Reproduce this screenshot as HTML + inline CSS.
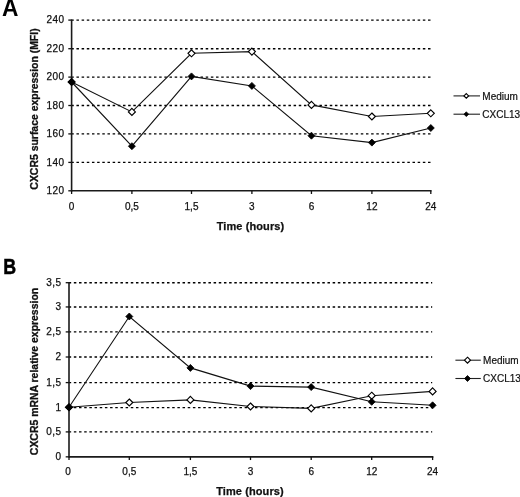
<!DOCTYPE html>
<html><head><meta charset="utf-8"><style>
html,body{margin:0;padding:0;background:#fff;}
svg{display:block;filter:blur(0.35px);}
.t{font-family:"Liberation Sans",sans-serif;font-size:10px;fill:#111;stroke:#111;stroke-width:0.25px;}
.ty{letter-spacing:0.4px;}
.tb{font-family:"Liberation Sans",sans-serif;font-size:11px;font-weight:bold;fill:#111;stroke:#111;stroke-width:0.25px;letter-spacing:0.1px;}
.yb{font-family:"Liberation Sans",sans-serif;font-size:10.45px;font-weight:bold;fill:#111;stroke:#111;stroke-width:0.3px;}
.lg{font-family:"Liberation Sans",sans-serif;font-size:10px;fill:#111;stroke:#111;stroke-width:0.2px;}
.L{font-family:"Liberation Sans",sans-serif;font-size:22px;font-weight:bold;fill:#000;stroke:#000;stroke-width:0.5px;}
</style></head><body>
<svg width="520" height="497" viewBox="0 0 520 497">
<rect width="520" height="497" fill="#fff"/>
<line x1="71.28" y1="20.1" x2="430.8" y2="20.1" stroke="#000" stroke-width="1.4" stroke-dasharray="2.5,2.67"/>
<line x1="71.28" y1="48.7" x2="430.8" y2="48.7" stroke="#000" stroke-width="1.4" stroke-dasharray="2.5,2.67"/>
<line x1="71.28" y1="77.1" x2="430.8" y2="77.1" stroke="#000" stroke-width="1.4" stroke-dasharray="2.5,2.67"/>
<line x1="71.28" y1="105.5" x2="430.8" y2="105.5" stroke="#000" stroke-width="1.4" stroke-dasharray="2.5,2.67"/>
<line x1="71.28" y1="133.9" x2="430.8" y2="133.9" stroke="#000" stroke-width="1.4" stroke-dasharray="2.5,2.67"/>
<line x1="71.28" y1="162.4" x2="430.8" y2="162.4" stroke="#000" stroke-width="1.4" stroke-dasharray="2.5,2.67"/>
<line x1="68.3" y1="20.1" x2="71.6" y2="20.1" stroke="#111" stroke-width="1.3"/>
<line x1="68.3" y1="48.7" x2="71.6" y2="48.7" stroke="#111" stroke-width="1.3"/>
<line x1="68.3" y1="77.1" x2="71.6" y2="77.1" stroke="#111" stroke-width="1.3"/>
<line x1="68.3" y1="105.5" x2="71.6" y2="105.5" stroke="#111" stroke-width="1.3"/>
<line x1="68.3" y1="133.9" x2="71.6" y2="133.9" stroke="#111" stroke-width="1.3"/>
<line x1="68.3" y1="162.4" x2="71.6" y2="162.4" stroke="#111" stroke-width="1.3"/>
<line x1="68.3" y1="190.8" x2="71.6" y2="190.8" stroke="#111" stroke-width="1.3"/>
<line x1="71.6" y1="19.5" x2="71.6" y2="191.4" stroke="#1a1a1a" stroke-width="1.6"/>
<line x1="71.6" y1="190.8" x2="431.6" y2="190.8" stroke="#1a1a1a" stroke-width="1.6"/>
<line x1="71.6" y1="190.8" x2="71.6" y2="194.0" stroke="#111" stroke-width="1.3"/>
<line x1="131.9" y1="190.8" x2="131.9" y2="194.0" stroke="#111" stroke-width="1.3"/>
<line x1="191.5" y1="190.8" x2="191.5" y2="194.0" stroke="#111" stroke-width="1.3"/>
<line x1="251.9" y1="190.8" x2="251.9" y2="194.0" stroke="#111" stroke-width="1.3"/>
<line x1="311.45" y1="190.8" x2="311.45" y2="194.0" stroke="#111" stroke-width="1.3"/>
<line x1="371.9" y1="190.8" x2="371.9" y2="194.0" stroke="#111" stroke-width="1.3"/>
<line x1="430.8" y1="190.8" x2="430.8" y2="194.0" stroke="#111" stroke-width="1.3"/>
<text x="64.4" y="23.3" text-anchor="end" class="t ty">240</text>
<text x="64.4" y="51.900000000000006" text-anchor="end" class="t ty">220</text>
<text x="64.4" y="80.3" text-anchor="end" class="t ty">200</text>
<text x="64.4" y="108.7" text-anchor="end" class="t ty">180</text>
<text x="64.4" y="137.1" text-anchor="end" class="t ty">160</text>
<text x="64.4" y="165.6" text-anchor="end" class="t ty">140</text>
<text x="64.4" y="194.0" text-anchor="end" class="t ty">120</text>
<text x="71.6" y="209.5" text-anchor="middle" class="t">0</text>
<text x="131.9" y="209.5" text-anchor="middle" class="t">0,5</text>
<text x="191.5" y="209.5" text-anchor="middle" class="t">1,5</text>
<text x="251.9" y="209.5" text-anchor="middle" class="t">3</text>
<text x="311.45" y="209.5" text-anchor="middle" class="t">6</text>
<text x="371.9" y="209.5" text-anchor="middle" class="t">12</text>
<text x="430.8" y="209.5" text-anchor="middle" class="t">24</text>
<text x="250.5" y="230" text-anchor="middle" class="tb">Time (hours)</text>
<text transform="translate(38,109) rotate(-90)" text-anchor="middle" class="yb">CXCR5 surface expression (MFI)</text>
<polyline points="71.6,82 131.9,111.9 191.5,53.3 251.9,51.6 311.45,104.9 371.9,116.5 430.8,113.3" fill="none" stroke="#111" stroke-width="1.1"/>
<polyline points="71.6,82 131.9,146.2 191.5,76.4 251.9,85.9 311.45,135.7 371.9,142.6 430.8,128" fill="none" stroke="#111" stroke-width="1.1"/>
<polygon points="71.6,78.5 75.1,82 71.6,85.5 68.1,82" fill="#fff" stroke="#000" stroke-width="1.15"/>
<polygon points="131.9,108.4 135.4,111.9 131.9,115.4 128.4,111.9" fill="#fff" stroke="#000" stroke-width="1.15"/>
<polygon points="191.5,49.8 195.0,53.3 191.5,56.8 188.0,53.3" fill="#fff" stroke="#000" stroke-width="1.15"/>
<polygon points="251.9,48.1 255.4,51.6 251.9,55.1 248.4,51.6" fill="#fff" stroke="#000" stroke-width="1.15"/>
<polygon points="311.45,101.4 314.95,104.9 311.45,108.4 307.95,104.9" fill="#fff" stroke="#000" stroke-width="1.15"/>
<polygon points="371.9,113.0 375.4,116.5 371.9,120.0 368.4,116.5" fill="#fff" stroke="#000" stroke-width="1.15"/>
<polygon points="430.8,109.8 434.3,113.3 430.8,116.8 427.3,113.3" fill="#fff" stroke="#000" stroke-width="1.15"/>
<polygon points="71.6,78.5 75.1,82 71.6,85.5 68.1,82" fill="#000" stroke="#000" stroke-width="0.8"/>
<polygon points="131.9,142.7 135.4,146.2 131.9,149.7 128.4,146.2" fill="#000" stroke="#000" stroke-width="0.8"/>
<polygon points="191.5,72.9 195.0,76.4 191.5,79.9 188.0,76.4" fill="#000" stroke="#000" stroke-width="0.8"/>
<polygon points="251.9,82.4 255.4,85.9 251.9,89.4 248.4,85.9" fill="#000" stroke="#000" stroke-width="0.8"/>
<polygon points="311.45,132.2 314.95,135.7 311.45,139.2 307.95,135.7" fill="#000" stroke="#000" stroke-width="0.8"/>
<polygon points="371.9,139.1 375.4,142.6 371.9,146.1 368.4,142.6" fill="#000" stroke="#000" stroke-width="0.8"/>
<polygon points="430.8,124.5 434.3,128 430.8,131.5 427.3,128" fill="#000" stroke="#000" stroke-width="0.8"/>
<line x1="453.5" y1="95.9" x2="480" y2="95.9" stroke="#222" stroke-width="1.1"/>
<polygon points="466.3,93.55000000000001 468.65000000000003,95.9 466.3,98.25 463.95,95.9" fill="#fff" stroke="#000" stroke-width="1.15"/>
<text x="482.3" y="99.80000000000001" class="lg">Medium</text>
<line x1="453.5" y1="114.2" x2="480" y2="114.2" stroke="#222" stroke-width="1.1"/>
<polygon points="466.3,111.85000000000001 468.65000000000003,114.2 466.3,116.55 463.95,114.2" fill="#000" stroke="#000" stroke-width="0.8"/>
<text x="482.3" y="118.10000000000001" class="lg">CXCL13</text>
<text transform="translate(2.0,16) scale(0.95,1)" class="L" style="font-size:24px;stroke-width:0px">A</text>
<line x1="68.67" y1="282.7" x2="432.2" y2="282.7" stroke="#000" stroke-width="1.4" stroke-dasharray="2.5,2.676"/>
<line x1="68.67" y1="306.95" x2="432.2" y2="306.95" stroke="#000" stroke-width="1.4" stroke-dasharray="2.5,2.676"/>
<line x1="68.67" y1="331.9" x2="432.2" y2="331.9" stroke="#000" stroke-width="1.4" stroke-dasharray="2.5,2.676"/>
<line x1="68.67" y1="357.0" x2="432.2" y2="357.0" stroke="#000" stroke-width="1.4" stroke-dasharray="2.5,2.676"/>
<line x1="68.67" y1="382.6" x2="432.2" y2="382.6" stroke="#000" stroke-width="1.4" stroke-dasharray="2.5,2.676"/>
<line x1="68.67" y1="407.6" x2="432.2" y2="407.6" stroke="#000" stroke-width="1.4" stroke-dasharray="2.5,2.676"/>
<line x1="68.67" y1="431.9" x2="432.2" y2="431.9" stroke="#000" stroke-width="1.4" stroke-dasharray="2.5,2.676"/>
<line x1="65.7" y1="282.7" x2="69.0" y2="282.7" stroke="#111" stroke-width="1.3"/>
<line x1="65.7" y1="306.95" x2="69.0" y2="306.95" stroke="#111" stroke-width="1.3"/>
<line x1="65.7" y1="331.9" x2="69.0" y2="331.9" stroke="#111" stroke-width="1.3"/>
<line x1="65.7" y1="357.0" x2="69.0" y2="357.0" stroke="#111" stroke-width="1.3"/>
<line x1="65.7" y1="382.6" x2="69.0" y2="382.6" stroke="#111" stroke-width="1.3"/>
<line x1="65.7" y1="407.6" x2="69.0" y2="407.6" stroke="#111" stroke-width="1.3"/>
<line x1="65.7" y1="431.9" x2="69.0" y2="431.9" stroke="#111" stroke-width="1.3"/>
<line x1="65.7" y1="456.85" x2="69.0" y2="456.85" stroke="#111" stroke-width="1.3"/>
<line x1="69.0" y1="282.09999999999997" x2="69.0" y2="457.45000000000005" stroke="#1a1a1a" stroke-width="1.6"/>
<line x1="69.0" y1="456.85" x2="433.40000000000003" y2="456.85" stroke="#1a1a1a" stroke-width="1.6"/>
<line x1="69.0" y1="456.85" x2="69.0" y2="460.05" stroke="#111" stroke-width="1.3"/>
<line x1="129.3" y1="456.85" x2="129.3" y2="460.05" stroke="#111" stroke-width="1.3"/>
<line x1="190.4" y1="456.85" x2="190.4" y2="460.05" stroke="#111" stroke-width="1.3"/>
<line x1="250.5" y1="456.85" x2="250.5" y2="460.05" stroke="#111" stroke-width="1.3"/>
<line x1="311.2" y1="456.85" x2="311.2" y2="460.05" stroke="#111" stroke-width="1.3"/>
<line x1="371.7" y1="456.85" x2="371.7" y2="460.05" stroke="#111" stroke-width="1.3"/>
<line x1="432.6" y1="456.85" x2="432.6" y2="460.05" stroke="#111" stroke-width="1.3"/>
<text x="61.4" y="285.9" text-anchor="end" class="t ty">3,5</text>
<text x="61.4" y="310.15" text-anchor="end" class="t ty">3</text>
<text x="61.4" y="335.09999999999997" text-anchor="end" class="t ty">2,5</text>
<text x="61.4" y="360.2" text-anchor="end" class="t ty">2</text>
<text x="61.4" y="385.8" text-anchor="end" class="t ty">1,5</text>
<text x="61.4" y="410.8" text-anchor="end" class="t ty">1</text>
<text x="61.4" y="435.09999999999997" text-anchor="end" class="t ty">0,5</text>
<text x="61.4" y="460.05" text-anchor="end" class="t ty">0</text>
<text x="68.0" y="475.3" text-anchor="middle" class="t">0</text>
<text x="129.3" y="475.3" text-anchor="middle" class="t">0,5</text>
<text x="190.4" y="475.3" text-anchor="middle" class="t">1,5</text>
<text x="250.5" y="475.3" text-anchor="middle" class="t">3</text>
<text x="311.2" y="475.3" text-anchor="middle" class="t">6</text>
<text x="371.7" y="475.3" text-anchor="middle" class="t">12</text>
<text x="432.6" y="475.3" text-anchor="middle" class="t">24</text>
<text x="250" y="495.3" text-anchor="middle" class="tb">Time (hours)</text>
<text transform="translate(38,371.5) rotate(-90)" text-anchor="middle" class="yb">CXCR5 mRNA relative expression</text>
<polyline points="69.0,407.3 129.3,402.5 190.4,399.9 250.5,406.5 311.2,408.4 371.7,395.7 432.6,391.4" fill="none" stroke="#111" stroke-width="1.1"/>
<polyline points="69.0,407.3 129.3,316.5 190.4,367.9 250.5,386.1 311.2,387.1 371.7,401.8 432.6,405.3" fill="none" stroke="#111" stroke-width="1.1"/>
<polygon points="69.0,403.8 72.5,407.3 69.0,410.8 65.5,407.3" fill="#fff" stroke="#000" stroke-width="1.15"/>
<polygon points="129.3,399.0 132.8,402.5 129.3,406.0 125.80000000000001,402.5" fill="#fff" stroke="#000" stroke-width="1.15"/>
<polygon points="190.4,396.4 193.9,399.9 190.4,403.4 186.9,399.9" fill="#fff" stroke="#000" stroke-width="1.15"/>
<polygon points="250.5,403.0 254.0,406.5 250.5,410.0 247.0,406.5" fill="#fff" stroke="#000" stroke-width="1.15"/>
<polygon points="311.2,404.9 314.7,408.4 311.2,411.9 307.7,408.4" fill="#fff" stroke="#000" stroke-width="1.15"/>
<polygon points="371.7,392.2 375.2,395.7 371.7,399.2 368.2,395.7" fill="#fff" stroke="#000" stroke-width="1.15"/>
<polygon points="432.6,387.9 436.1,391.4 432.6,394.9 429.1,391.4" fill="#fff" stroke="#000" stroke-width="1.15"/>
<polygon points="69.0,403.8 72.5,407.3 69.0,410.8 65.5,407.3" fill="#000" stroke="#000" stroke-width="0.8"/>
<polygon points="129.3,313.0 132.8,316.5 129.3,320.0 125.80000000000001,316.5" fill="#000" stroke="#000" stroke-width="0.8"/>
<polygon points="190.4,364.4 193.9,367.9 190.4,371.4 186.9,367.9" fill="#000" stroke="#000" stroke-width="0.8"/>
<polygon points="250.5,382.6 254.0,386.1 250.5,389.6 247.0,386.1" fill="#000" stroke="#000" stroke-width="0.8"/>
<polygon points="311.2,383.6 314.7,387.1 311.2,390.6 307.7,387.1" fill="#000" stroke="#000" stroke-width="0.8"/>
<polygon points="371.7,398.3 375.2,401.8 371.7,405.3 368.2,401.8" fill="#000" stroke="#000" stroke-width="0.8"/>
<polygon points="432.6,401.8 436.1,405.3 432.6,408.8 429.1,405.3" fill="#000" stroke="#000" stroke-width="0.8"/>
<line x1="455.4" y1="360.2" x2="480.8" y2="360.2" stroke="#222" stroke-width="1.1"/>
<polygon points="467.5,357.2 470.5,360.2 467.5,363.2 464.5,360.2" fill="#fff" stroke="#000" stroke-width="1.15"/>
<text x="483.1" y="364.09999999999997" class="lg">Medium</text>
<line x1="455.4" y1="378.5" x2="480.8" y2="378.5" stroke="#222" stroke-width="1.1"/>
<polygon points="467.5,375.5 470.5,378.5 467.5,381.5 464.5,378.5" fill="#000" stroke="#000" stroke-width="0.8"/>
<text x="483.1" y="382.4" class="lg">CXCL13</text>
<text transform="translate(3.3,274.0) scale(0.8,1)" class="L" style="font-size:22.3px;stroke-width:0.5px">B</text>
</svg>
</body></html>
